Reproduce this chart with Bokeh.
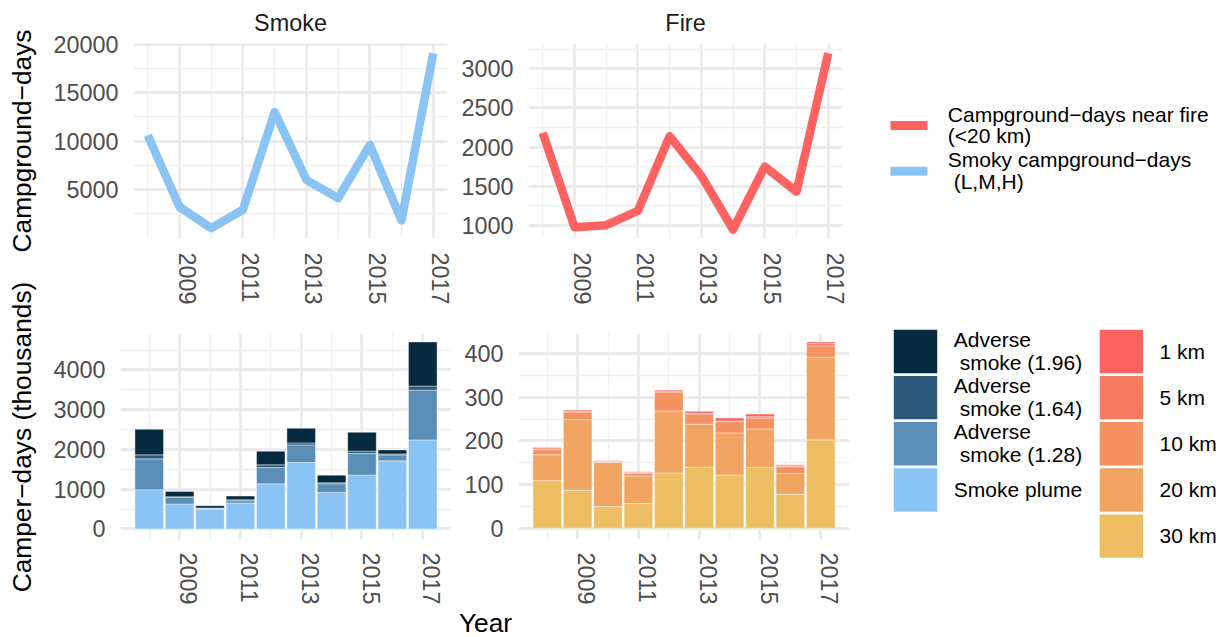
import math

from bokeh.plotting import figure
from bokeh.layouts import column, row
from bokeh.models import (Range1d, FixedTicker, BasicTickFormatter, CustomJSTickFormatter,
                          ColumnDataSource)
from bokeh.core.properties import value
from bokeh.embed import file_html
from bokeh.resources import INLINE

# ---- data -------------------------------------------------------------
years = [2008, 2009, 2010, 2011, 2012, 2013, 2014, 2015, 2016, 2017]

smoky_campground_days = [10600, 3200, 1000, 2900, 13000, 6000, 4100, 9600, 1800, 19100]
fire_campground_days = [2180, 975, 1000, 1185, 2140, 1630, 945, 1750, 1430, 3200]

# camper-days (thousands), stacked from the bottom up
smoke_plume = [986, 627, 501, 652, 1136, 1671, 919, 1353, 1713, 2239]
adverse_128 = [777, 167, 17, 58, 409, 443, 217, 543, 150, 1253]
adverse_164 = [100, 16, 8, 25, 67, 50, 25, 59, 25, 100]
adverse_196 = [643, 134, 59, 92, 343, 367, 192, 476, 100, 1111]

fire_30km = [108.7, 86.7, 49.4, 56.3, 126.2, 139.2, 121.7, 139.2, 77.6, 202.3]
fire_20km = [59.3, 162.0, 101.2, 63.1, 142.2, 98.8, 96.6, 88.2, 47.9, 189.3]
fire_10km = [12.0, 17.3, 1.4, 6.6, 43.4, 23.6, 25.7, 25.1, 15.2, 25.9]
fire_5km = [4.0, 2.4, 1.0, 1.8, 2.3, 1.5, 1.5, 3.0, 2.3, 5.3]
fire_1km = [1.5, 2.3, 1.4, 1.5, 2.2, 4.6, 7.0, 6.1, 2.2, 3.8]

x_major = [2009, 2011, 2013, 2015, 2017]
x_minor = [2008, 2010, 2012, 2014, 2016]

y_titles = ["Campground\u2212days", "Camper\u2212days (thousands)"]
x_title = "Year"
line_labels = ["Campground\u2212days near fire\n(<20 km)", "Smoky campground\u2212days\n\u00a0(L,M,H)"]
smoke_labels = ["Adverse\n\u00a0smoke (1.96)", "Adverse\n\u00a0smoke (1.64)",
                "Adverse\n\u00a0smoke (1.28)", "Smoke plume"]
fire_labels = ["1 km", "5 km", "10 km", "20 km", "30 km"]

# ---- styling ----------------------------------------------------------
FONT = "Liberation Sans"
TICK_SIZE = "23.4px"
TITLE_PX = 26.3
LEGEND_PX = 21
GRID = "#EBEBEB"
MINOR = "#F0F0F0"

SMOKE_LINE = "#89C4F4"
FIRE_LINE = "#FF6361"
smoke_colors = ["#89C4F4", "#5B8EB7", "#2E5878", "#062A3F"]          # bottom -> top
fire_colors = ["#EEBE65", "#F0A662", "#F59261", "#F87B61", "#FF6361"]  # bottom -> top

STRIP = 45        # width of the column holding the rotated y titles
BASELINE = 0.38   # correction (in em) applied to alphabetic-baseline text glyphs
BOTTOM_H = 297    # height of the bar-chart row


def panel(width, height, xr, yr, left, right, top, bottom, yticks, yminor, label_shift,
          xstandoff, title=None):
    p = figure(width=width, height=height, x_range=xr, y_range=yr,
               output_backend="svg", toolbar_location=None,
               min_border_left=left, min_border_right=right,
               min_border_top=top, min_border_bottom=bottom, frame_align=False)
    p.outline_line_color = None
    p.background_fill_color = "white"
    p.border_fill_color = "white"

    # rotated year labels sit just right of their grid line (top-aligned rotation)
    p.xaxis.ticker = FixedTicker(ticks=[t + label_shift for t in x_major], minor_ticks=[])
    p.xaxis.formatter = CustomJSTickFormatter(code="return Math.floor(tick).toString()")
    p.xgrid.ticker = FixedTicker(ticks=x_major, minor_ticks=x_minor)
    p.yaxis.ticker = FixedTicker(ticks=yticks, minor_ticks=yminor)
    p.yaxis.formatter = BasicTickFormatter(use_scientific=False)

    for ax in (p.xaxis, p.yaxis):
        ax.axis_line_color = None
        ax.major_tick_line_color = None
        ax.minor_tick_line_color = None
        ax.major_tick_in = 0
        ax.major_tick_out = 0
        ax.minor_tick_in = 0
        ax.minor_tick_out = 0
        ax.major_label_text_font = FONT
        ax.major_label_text_font_size = TICK_SIZE
        ax.major_label_text_color = "#4D4D4D"
    p.xaxis.major_label_orientation = "vertical"
    p.xaxis.major_label_standoff = xstandoff
    p.yaxis.major_label_standoff = 15

    for g in (p.xgrid, p.ygrid):
        g.grid_line_color = GRID
        g.grid_line_width = 2.8
        g.minor_grid_line_color = MINOR
        g.minor_grid_line_width = 1.4

    if title:
        p.title.text = title
        p.title.align = "center"
        p.title.text_font = FONT
        p.title.text_font_size = "23.4px"
        p.title.text_font_style = "normal"
        p.title.text_color = "#1A1A1A"
        p.title.standoff = 15
    return p


def blank(width, height, x0, y0):
    # a bare canvas whose data coordinates equal page pixels
    p = figure(width=width, height=height, title=None,
               x_range=Range1d(x0, x0 + width), y_range=Range1d(y0 + height, y0),
               output_backend="svg", toolbar_location=None,
               x_axis_location=None, y_axis_location=None,
               min_border=0, min_border_left=0, min_border_right=0,
               min_border_top=0, min_border_bottom=0, frame_align=False)
    p.grid.visible = False
    p.outline_line_color = None
    p.background_fill_color = "white"
    p.border_fill_color = "white"
    return p


def legend_text(p, x, cy, label, spacing):
    lines = label.split("\n")
    n = len(lines)
    first = cy + 7.5 - (n - 1) * spacing / 2 - BASELINE * LEGEND_PX
    ys = [first + i * spacing for i in range(n)]
    p.text(x=[x] * n, y=ys, text=lines, text_font=value(FONT), text_font_size=f"{LEGEND_PX}px",
           text_baseline="alphabetic", text_align="left", text_color="#000000")


# ---- y titles ---------------------------------------------------------
title_strip = blank(STRIP, 637, 0, 0)
title_x = 31.5 - BASELINE * TITLE_PX
title_strip.text(x=[title_x, title_x], y=[140.5, 436.5], text=y_titles, angle=math.pi / 2,
                 text_font=value(FONT), text_font_size=f"{TITLE_PX}px",
                 text_baseline="alphabetic", text_align="center", text_color="#000000")

# ---- top row: campground-days lines ----------------------------------
smoke_line = panel(452 - STRIP, 310, Range1d(2007.55, 2017.45), Range1d(-72, 20103),
                   133 - STRIP, 5, 43, 72,
                   [5000, 10000, 15000, 20000], [2500, 7500, 12500, 17500], 0.24, 14,
                   title="Smoke")
smoke_line.line(years, smoky_campground_days, line_width=8.5, color=SMOKE_LINE,
                line_join="round", line_cap="butt")

fire_line = panel(395, 310, Range1d(2007.55, 2017.45), Range1d(830, 3324), 76, 5, 43, 72,
                  [1000, 1500, 2000, 2500, 3000], [1250, 1750, 2250, 2750, 3250], 0.24, 14,
                  title="Fire")
fire_line.line(years, fire_campground_days, line_width=8.5, color=FIRE_LINE,
               line_join="round", line_cap="butt")

top_legend = blank(377, 310, 847, 0)
for cy, color, label in zip([125, 170.7], [FIRE_LINE, SMOKE_LINE], line_labels):
    top_legend.line([890, 927], [cy, cy], line_width=9, color=color)
    legend_text(top_legend, 947.3, cy, label, 21.7)

# ---- bottom row: camper-days stacked bars -----------------------------
smoke_src = ColumnDataSource(dict(year=years, plume=smoke_plume, a128=adverse_128,
                                  a164=adverse_164, a196=adverse_196))
fire_src = ColumnDataSource(dict(year=years, km30=fire_30km, km20=fire_20km, km10=fire_10km,
                                 km5=fire_5km, km1=fire_1km))

bottom_border = BOTTOM_H - 23 - 207
smoke_bars = panel(456 - STRIP, BOTTOM_H, Range1d(2007.055, 2017.945), Range1d(-265, 4915),
                   120 - STRIP, 5, 23, bottom_border,
                   [0, 1000, 2000, 3000, 4000], [500, 1500, 2500, 3500, 4500], 0.30, 13)
smoke_bars.vbar_stack(["plume", "a128", "a164", "a196"], x="year", width=0.94, source=smoke_src,
                      fill_color=smoke_colors, line_color="white", line_alpha=0.5, line_width=0.8)

fire_bars = panel(398, BOTTOM_H, Range1d(2007.055, 2017.945), Range1d(-26, 446), 62, 5, 23,
                  bottom_border, [0, 100, 200, 300, 400], [50, 150, 250, 350], 0.30, 13)
fire_bars.vbar_stack(["km30", "km20", "km10", "km5", "km1"], x="year", width=0.94, source=fire_src,
                     fill_color=fire_colors, line_color="white", line_alpha=0.5, line_width=0.8)

bottom_legend = blank(370, BOTTOM_H, 854, 310)
step = 46.15
size = 43.4
for i, (color, label) in enumerate(zip(smoke_colors[::-1], smoke_labels)):
    cy = 351 + i * step
    bottom_legend.rect([915], [cy], width=size, height=size, fill_color=color, line_color=None)
    legend_text(bottom_legend, 953.3, cy, label, 22.7)
for i, (color, label) in enumerate(zip(fire_colors[::-1], fire_labels)):
    cy = 351 + i * step
    bottom_legend.rect([1120.9], [cy], width=size, height=size, fill_color=color, line_color=None)
    legend_text(bottom_legend, 1159, cy, label, 22.7)

# ---- shared x-axis title ---------------------------------------------
year_top = 310 + BOTTOM_H
year_row = blank(1224 - STRIP, 637 - year_top, STRIP, year_top)
year_row.text(x=[485], y=[632 - BASELINE * TITLE_PX], text=[x_title], text_font=value(FONT),
              text_font_size=f"{TITLE_PX}px", text_baseline="alphabetic", text_align="center",
              text_color="#000000")

layout = row(title_strip,
             column(row(smoke_line, fire_line, top_legend),
                    row(smoke_bars, fire_bars, bottom_legend),
                    year_row))

open("out.html", "w").write(file_html(layout, INLINE))
